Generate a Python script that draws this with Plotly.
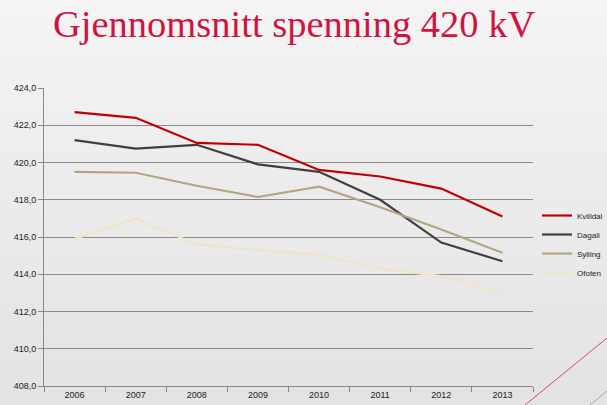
import plotly.graph_objects as go

years = ["2006", "2007", "2008", "2009", "2010", "2011", "2012", "2013"]
kvilldal = [422.7, 422.4, 421.05, 420.95, 419.6, 419.25, 418.6, 417.1]
dagali = [421.2, 420.75, 420.95, 419.9, 419.5, 418.0, 415.7, 414.7]
sylling = [419.5, 419.45, 418.75, 418.15, 418.7, 417.6, 416.4, 415.15]
ofoten = [415.9, 417.0, 415.6, 415.3, 415.05, 414.3, 413.9, 413.0]

series = [
    ("Kvilldal", kvilldal, "#C00000"),
    ("Dagali", dagali, "#404040"),
    ("Sylling", sylling, "#B3A77F"),
    ("Ofoten", ofoten, "#F0E5C4"),
]

W, H = 607, 405
L, R, T, B = 44, 533, 88, 386

fig = go.Figure()
for name, vals, col in series:
    fig.add_trace(go.Scatter(x=years, y=vals, name=name, mode="lines",
                             line=dict(color=col, width=2.2)))

pw, ph = R - L, B - T
def px(x): return (x - L) / pw
def py(y): return (B - y) / ph

shapes = []
n = 40
for i in range(n):
    y0 = i * H / n
    y1 = (i + 1) * H / n
    t = i / (n - 1)
    c = int(round(0xF4 + (0xE3 - 0xF4) * t))
    shapes.append(dict(type="rect", xref="paper", yref="paper",
                       x0=px(0), x1=px(W), y0=py(y1), y1=py(y0),
                       fillcolor=f"rgb({c},{c},{c})", line=dict(width=0), layer="below"))
shapes.append(dict(type="line", xref="paper", yref="paper",
                   x0=px(525), y0=py(405), x1=px(607), y1=py(338),
                   line=dict(color="#D9486F", width=1)))
shapes.append(dict(type="line", xref="paper", yref="paper",
                   x0=px(590), y0=py(405), x1=px(607), y1=py(391),
                   line=dict(color="#A8A8A8", width=1)))

fig.update_layout(
    width=W, height=H,
    margin=dict(l=L, r=W - R, t=T, b=H - B, autoexpand=False),
    paper_bgcolor="#EBEBEB",
    plot_bgcolor="rgba(0,0,0,0)",
    shapes=shapes,
    separators=",.",
    showlegend=True,
    title=dict(text="Gjennomsnitt spenning 420 kV", x=53 / W, xanchor="left",
               y=1 - 24 / H, yanchor="middle", xref="container", yref="container",
               font=dict(family="Liberation Serif", size=38.5, color="#D0143F")),
    legend=dict(x=px(537), y=py(244), xanchor="left", yanchor="middle",
                bgcolor="rgba(0,0,0,0)", font=dict(family="Liberation Sans", size=8, color="#222"),
                tracegroupgap=0, itemwidth=30),
    xaxis=dict(type="category", range=[-0.5, 7.5], tickson="boundaries", ticks="outside", ticklen=5,
               tickcolor="#888", showline=True, linecolor="#888", linewidth=1,
               showgrid=False, tickfont=dict(family="Liberation Sans", size=9, color="#222")),
    yaxis=dict(range=[408, 424], dtick=2, tickformat=".1f", ticks="outside", ticklen=5,
               tickcolor="#888", showline=True, linecolor="#888", linewidth=1,
               showgrid=True, gridcolor="#8A8A8A", gridwidth=1, zeroline=False,
               tickfont=dict(family="Liberation Sans", size=9, color="#222")),
)

fig.write_html("out.html", config={"displayModeBar": False},
               post_script="document.body.style.margin='0';document.body.style.overflow='hidden';")
